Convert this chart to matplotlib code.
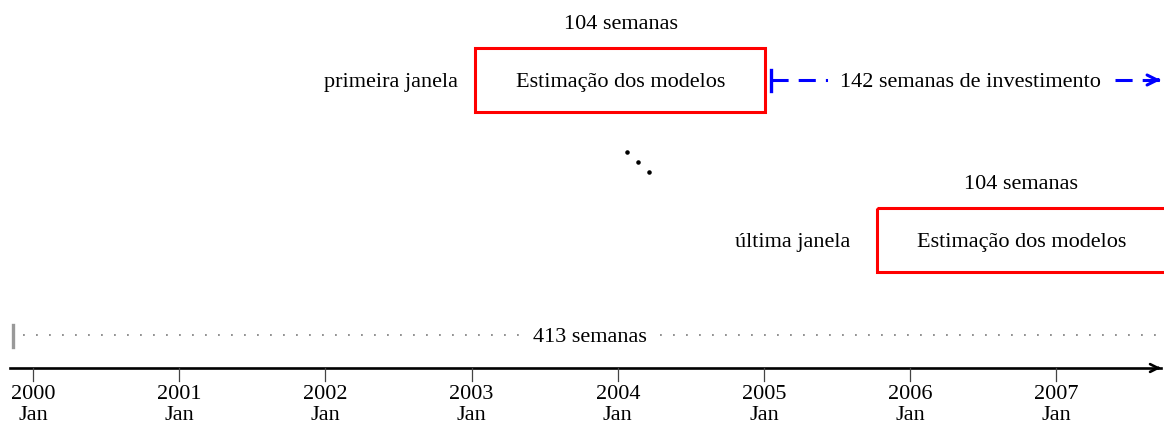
import matplotlib
matplotlib.use('Agg')
import matplotlib.pyplot as plt
from matplotlib.patches import Rectangle

plt.rcParams['font.family'] = ['Liberation Serif', 'DejaVu Serif']
plt.rcParams['font.size'] = 16

# datas em anos decimais
anos = [2000, 2001, 2002, 2003, 2004, 2005, 2006, 2007]
meses = ['Jan'] * len(anos)
periodo_total = (1999.86, 2007.78)        # 413 semanas
primeira_janela = (2003.02, 2005.01)      # 104 semanas
investimento = (2005.05, 2007.78)         # 142 semanas
ultima_janela = (2005.77, 2007.78)        # 104 semanas
rotulo_total = '413 semanas'
rotulo_estim = '104 semanas'
rotulo_invest = '142 semanas de investimento'
texto_caixa = 'Estimação dos modelos'

fig = plt.figure(figsize=(11.64, 4.23), dpi=100)
ax = fig.add_axes([0, 0, 1, 1])
ax.set_xlim(1999.774, 2007.736)
ax.set_ylim(423, 0)
ax.axis('off')
xmax = ax.get_xlim()[1]
dy = 2.5  # ajuste vertical do texto

# caixas das janelas
for (ini, fim), yc, nome, xc, folga in [
        (primeira_janela, 80, 'primeira janela', 2004.02, 0.11),
        (ultima_janela, 240, 'última janela', 2006.76, 0.18)]:
    ax.add_patch(Rectangle((ini, yc - 32), fim - ini, 64, fill=False,
                           edgecolor='#ff0000', lw=2.2, zorder=3))
    ax.text(xc, yc + dy, texto_caixa, ha='center', va='center')
    ax.text(xc, yc - 58 + dy, rotulo_estim, ha='center', va='center')
    ax.text(ini - folga, yc + dy, nome, ha='right', va='center')

# seta de investimento (azul tracejada, interrompida pelo texto)
padrao = (5.6, 3.3, 5.6, 3.3, 0.7, 3.3)
ax.plot([investimento[0], 2005.44], [80, 80], color='#0000ff', lw=2.2,
        dashes=padrao, solid_capstyle='butt')
ax.plot([2007.40, xmax - 0.01], [80, 80], color='#0000ff', lw=2.2,
        dashes=padrao, solid_capstyle='butt')
ax.plot([investimento[0], investimento[0]], [70, 91], color='#0000ff', lw=2.4)
ax.annotate('', xy=(xmax - 0.005, 80), xytext=(xmax - 0.06, 80),
            arrowprops=dict(arrowstyle='->', color='#0000ff', lw=2.2,
                            mutation_scale=18))
ax.text(2006.41, 80 + dy, rotulo_invest, ha='center', va='center')

# reticências diagonais
ax.plot([2004.06, 2004.14, 2004.21], [152.5, 162.5, 172.5], 'k.', ms=4.5)

# período total (cinza pontilhado)
ax.plot([periodo_total[0] + 0.07, periodo_total[1]], [335, 335], color='#888888',
        lw=1.3, dashes=(1, 6.2))
ax.plot([periodo_total[0], periodo_total[0]], [325, 347], color='#999999', lw=2.4)
ax.text(2003.81, 335 + dy, rotulo_total, ha='center', va='center',
        bbox=dict(facecolor='white', edgecolor='none', pad=4))

# eixo do tempo
ax.plot([1999.84, xmax - 0.02], [368, 368], color='black', lw=1.9)
ax.annotate('', xy=(xmax - 0.003, 368), xytext=(xmax - 0.06, 368),
            arrowprops=dict(arrowstyle='->', color='black', lw=1.9,
                            mutation_scale=14))
for ano, mes in zip(anos, meses):
    ax.plot([ano, ano], [368, 381], color='#444444', lw=0.9)
    ax.text(ano, 392 + dy, str(ano), ha='center', va='center')
    ax.text(ano, 415.5, mes, ha='center', va='center')

fig.savefig('out.png', dpi=100)
